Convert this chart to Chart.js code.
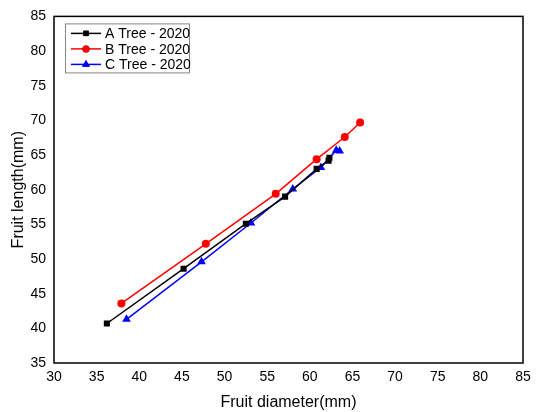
<!DOCTYPE html>
<html>
<head>
<meta charset="utf-8">
<script src="https://cdn.jsdelivr.net/npm/chart.js@4"></script>
<style>
  html, body { margin: 0; padding: 0; background: #fff; }
  #chartContainer { width: 538px; height: 412px; }
</style>
</head>
<body>
<div id="chartContainer"><canvas id="fruitChart"></canvas></div>
<script>
// Data (diameter, length in mm)
const seriesNames = ["A Tree - 2020", "B Tree - 2020", "C Tree - 2020"];
const treeA = [[36.2, 40.7], [45.2, 48.6], [52.5, 55.1], [57.1, 59.0], [60.8, 63.0], [62.2, 64.2], [62.3, 64.6]];
const treeB = [[37.9, 43.6], [47.8, 52.2], [56.0, 59.4], [60.8, 64.4], [64.1, 67.6], [65.9, 69.7]];
const treeC = [[38.5, 41.3], [47.3, 49.6], [53.1, 55.2], [58.0, 60.1], [61.3, 63.2], [63.1, 65.7], [63.5, 65.6]];
const xTicks = [30, 35, 40, 45, 50, 55, 60, 65, 70, 75, 80, 85];
const yTicks = [35, 40, 45, 50, 55, 60, 65, 70, 75, 80, 85];

const FONT = "'Liberation Sans', Arial, sans-serif";

function toPoints(arr) {
    return arr.map(p => ({ x: p[0], y: p[1] }));
}

const styles = [
    { color: "#000000", pointStyle: "rect", radius: 4.3 },
    { color: "#ff0000", pointStyle: "circle", radius: 4 },
    { color: "#0000ff", pointStyle: "triangle", radius: 5 }
];

const datasets = [treeA, treeB, treeC].map((d, i) => ({
    label: seriesNames[i],
    data: toPoints(d),
    borderColor: styles[i].color,
    backgroundColor: styles[i].color,
    pointStyle: styles[i].pointStyle,
    pointRadius: styles[i].radius,
    pointBorderWidth: 0,
    borderWidth: 1.5,
    showLine: true,
    tension: 0
}));

// Box round the plot and the framed legend
const framePlugin = {
    id: "frame",
    afterDraw(chart) {
        const { ctx, chartArea: a } = chart;
        ctx.save();
        ctx.strokeStyle = "#000";
        ctx.lineWidth = 1.5;
        ctx.strokeRect(a.left, a.top, a.right - a.left, a.bottom - a.top);

        // legend
        const lx = a.left + 11, ly = a.top + 7, lw = 124, lh = 49;
        ctx.lineWidth = 1;
        ctx.strokeStyle = "#888";
        ctx.strokeRect(lx + 0.5, ly + 0.5, lw, lh);
        ctx.font = "14px " + FONT;
        ctx.textBaseline = "middle";
        chart.data.datasets.forEach((ds, i) => {
            const y = ly + 10 + i * 15.5;
            ctx.strokeStyle = ds.borderColor;
            ctx.lineWidth = 1.5;
            ctx.beginPath();
            ctx.moveTo(lx + 6, y);
            ctx.lineTo(lx + 36, y);
            ctx.stroke();
            Chart.helpers.drawPoint(ctx, {
                pointStyle: ds.pointStyle,
                radius: ds.pointRadius - 0.5,
                rotation: 0,
                borderWidth: 0
            }, lx + 21, y);
            ctx.fillStyle = ds.borderColor;
            ctx.fill();
            ctx.fillStyle = "#000";
            ctx.fillText(ds.label, lx + 40, y + 1);
        });
        ctx.restore();
    }
};

const options = {
    responsive: true,
    maintainAspectRatio: false,
    animation: false,
    layout: { padding: { top: 15, right: 15, left: 9, bottom: 0 } },
    plugins: {
        legend: { display: false },
        tooltip: { enabled: false }
    },
    scales: {
        x: {
            type: "linear",
            min: 30,
            max: 85,
            afterBuildTicks: axis => { axis.ticks = xTicks.map(v => ({ value: v })); },
            afterFit: axis => { axis.height = 49; },
            grid: { display: false, drawTicks: false },
            border: { display: false },
            ticks: { color: "#000", padding: 6, font: { family: FONT, size: 14 } },
            title: {
                display: true,
                text: "Fruit diameter(mm)",
                color: "#000",
                padding: { top: 4, bottom: 0 },
                font: { family: FONT, size: 16 }
            }
        },
        y: {
            type: "linear",
            min: 35,
            max: 85,
            afterBuildTicks: axis => { axis.ticks = yTicks.map(v => ({ value: v })); },
            afterFit: axis => { axis.width = 45; },
            grid: { display: false, drawTicks: false },
            border: { display: false },
            ticks: { color: "#000", padding: 8, font: { family: FONT, size: 14 } },
            title: {
                display: true,
                text: "Fruit length(mm)",
                color: "#000",
                padding: { top: 0, bottom: 4 },
                font: { family: FONT, size: 16 }
            }
        }
    }
};

const ctx = document.getElementById("fruitChart").getContext("2d");
new Chart(ctx, {
    type: "scatter",
    data: { datasets: datasets },
    options: options,
    plugins: [framePlugin]
});
</script>
</body>
</html>
